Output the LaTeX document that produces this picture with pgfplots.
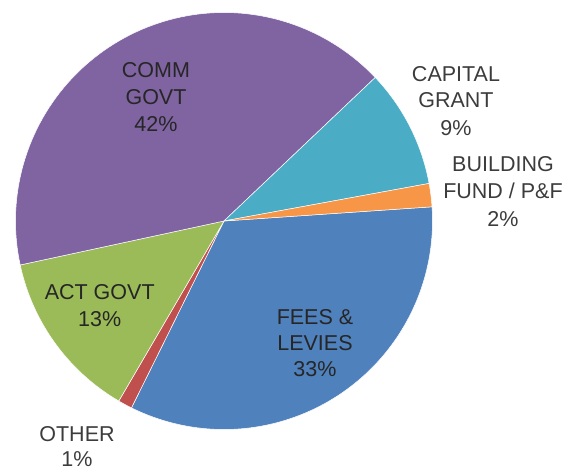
\documentclass[border=0pt]{standalone}
\usepackage{pgfplots}
\pgfplotsset{compat=1.18}
\usepackage{fontspec}
\setmainfont{Liberation Sans}
\definecolor{cfees}{RGB}{79,129,189}
\definecolor{cother}{RGB}{192,80,77}
\definecolor{cact}{RGB}{155,187,89}
\definecolor{ccomm}{RGB}{128,100,162}
\definecolor{ccap}{RGB}{75,172,198}
\definecolor{cbuild}{RGB}{247,150,70}
\definecolor{txtout}{RGB}{60,60,60}
% slice values (percent), clockwise from the start angle
\def\vFees{33.4}
\def\vOther{1.1}
\def\vAct{13.2}
\def\vComm{41.3}
\def\vCap{9.2}
\def\vBuild{1.8}
\def\cx{224}
\def\cy{249}
\def\rr{208.5}
\pgfmathsetmacro\aA{3.9}
\pgfmathsetmacro\aB{\aA-3.6*\vFees}
\pgfmathsetmacro\aC{\aB-3.6*\vOther}
\pgfmathsetmacro\aD{\aC-3.6*\vAct}
\pgfmathsetmacro\aE{\aD-3.6*\vComm}
\pgfmathsetmacro\aF{\aE-3.6*\vCap}
\pgfmathsetmacro\aG{\aF-3.6*\vBuild}
\begin{document}
\begin{tikzpicture}
\begin{axis}[at={(0,0)}, anchor=south west, width=569bp, height=470bp,
  scale only axis, xmin=0, xmax=569, ymin=0, ymax=470, hide axis, clip=false]
\pgfplotsset{every axis plot/.append style={draw=white, line width=0.5bp, samples=90, variable=\t}}
\addplot[fill=cfees, domain=\aB:\aA] ({\cx+\rr*cos(\t)},{\cy+\rr*sin(\t)}) -- (axis cs:\cx,\cy) -- cycle;
\addplot[fill=cother, domain=\aC:\aB, samples=8] ({\cx+\rr*cos(\t)},{\cy+\rr*sin(\t)}) -- (axis cs:\cx,\cy) -- cycle;
\addplot[fill=cact, domain=\aD:\aC] ({\cx+\rr*cos(\t)},{\cy+\rr*sin(\t)}) -- (axis cs:\cx,\cy) -- cycle;
\addplot[fill=ccomm, domain=\aE:\aD] ({\cx+\rr*cos(\t)},{\cy+\rr*sin(\t)}) -- (axis cs:\cx,\cy) -- cycle;
\addplot[fill=ccap, domain=\aF:\aE] ({\cx+\rr*cos(\t)},{\cy+\rr*sin(\t)}) -- (axis cs:\cx,\cy) -- cycle;
\addplot[fill=cbuild, domain=\aG:\aF, samples=10] ({\cx+\rr*cos(\t)},{\cy+\rr*sin(\t)}) -- (axis cs:\cx,\cy) -- cycle;
\tikzset{lab/.style={anchor=base, inner sep=0pt, font=\fontsize{21.5bp}{26bp}\selectfont}}
% COMM GOVT
\node[lab, text=black!85] at (axis cs:156,{470-77.3}) {COMM};
\node[lab, text=black!85] at (axis cs:156,{470-104}) {GOVT};
\node[lab, text=black!85] at (axis cs:156,{470-131.7}) {42\%};
% CAPITAL GRANT
\node[lab, text=txtout] at (axis cs:456,{470-81.7}) {CAPITAL};
\node[lab, text=txtout] at (axis cs:456,{470-107}) {GRANT};
\node[lab, text=txtout] at (axis cs:456,{470-135}) {9\%};
% BUILDING FUND
\node[lab, text=txtout] at (axis cs:503,{470-171.7}) {BUILDING};
\node[lab, text=txtout] at (axis cs:503,{470-198}) {FUND / P\&F};
\node[lab, text=txtout] at (axis cs:503,{470-226.7}) {2\%};
% FEES & LEVIES
\node[lab, text=black!85] at (axis cs:315,{470-324}) {FEES \&};
\node[lab, text=black!85] at (axis cs:315,{470-350.7}) {LEVIES};
\node[lab, text=black!85] at (axis cs:315,{470-376.7}) {33\%};
% ACT GOVT
\node[lab, text=black!85] at (axis cs:99.7,{470-299.3}) {ACT GOVT};
\node[lab, text=black!85] at (axis cs:99.7,{470-326.7}) {13\%};
% OTHER
\node[lab, text=txtout] at (axis cs:77,{470-441.7}) {OTHER};
\node[lab, text=txtout] at (axis cs:77,{470-466.5}) {1\%};
\end{axis}
\pgfresetboundingbox
\path[use as bounding box] (0,0) rectangle (569bp,470bp);
\end{tikzpicture}
\end{document}
